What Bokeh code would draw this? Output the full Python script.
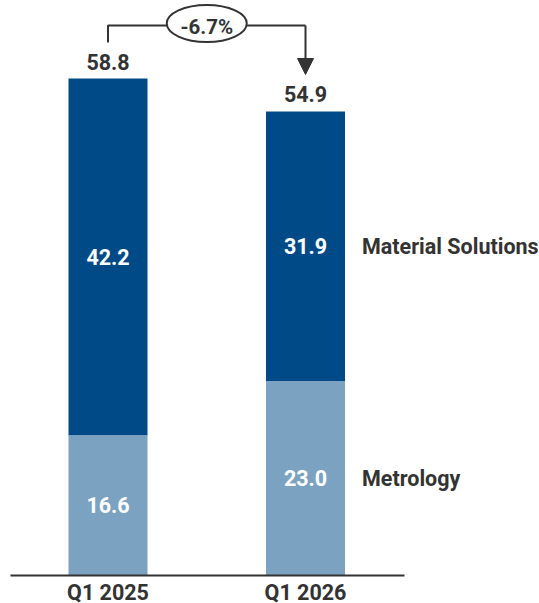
from bokeh.plotting import figure
from bokeh.models import Range1d, Arrow, NormalHead
from bokeh.core.properties import value
from bokeh.embed import file_html
from bokeh.resources import INLINE

# ---- data ----
categories = ["Q1 2025", "Q1 2026"]
metrology = [16.6, 23.0]
material_solutions = [42.2, 31.9]
totals = [58.8, 54.9]
series_names = ["Material Solutions", "Metrology"]
change_label = "-6.7%"

# ---- style ----
DARK = "#004B87"
LIGHT = "#7BA3C1"
TEXT = "#333333"
FONT = value("Roboto")

W, H = 539, 603
PPU_Y = 8.452          # pixels per data unit (y)
PPU_X = 197.5          # pixels per category step (x)
BASE_PX = 575          # pixel (from frame top) of y=0
CENTER0_PX = 107.5     # pixel (from frame left) of first category

def py(n):
    return n / PPU_Y

def px(n):
    return n / PPU_X

x = list(range(len(categories)))
bw = px(79)

p = figure(width=W, height=H, output_backend="svg", toolbar_location=None,
           min_border=0, outline_line_color=None,
           x_range=Range1d(-CENTER0_PX / PPU_X, (W - CENTER0_PX) / PPU_X),
           y_range=Range1d(-(H - BASE_PX) / PPU_Y, BASE_PX / PPU_Y))
p.axis.visible = False
p.grid.visible = False
p.background_fill_color = "white"
p.border_fill_color = "white"

tops = [m + s for m, s in zip(metrology, material_solutions)]

# bars
p.vbar(x=x, width=bw, bottom=0, top=metrology, fill_color=LIGHT, line_color=None)
p.vbar(x=x, width=bw, bottom=metrology, top=tops, fill_color=DARK, line_color=None)

# baseline
p.segment(x0=[x[0] - px(97.5)], y0=[0], x1=[x[-1] + px(99)], y1=[0],
          line_color=TEXT, line_width=2)

common = dict(text_font=FONT, text_font_style="bold", text_font_size="21.5px",
              text_baseline="middle")

# values inside bars
p.text(x=x, y=[m / 2 for m in metrology], text=[f"{v:.1f}" for v in metrology],
       text_color="white", text_align="center", **common)
p.text(x=x, y=[m + s / 2 for m, s in zip(metrology, material_solutions)],
       text=[f"{v:.1f}" for v in material_solutions],
       text_color="white", text_align="center", **common)

# totals
p.text(x=x, y=[t + py(17) for t in totals], text=[f"{v:.1f}" for v in totals],
       text_color=TEXT, text_align="center", **common)

# category labels
p.text(x=x, y=[-py(16.5)] * len(x), text=categories,
       text_color=TEXT, text_align="center", **common)

# series labels on right
lx = x[-1] + bw / 2 + px(17)
p.text(x=[lx, lx],
       y=[metrology[-1] + material_solutions[-1] / 2, metrology[-1] / 2],
       text=series_names, text_color=TEXT, text_align="left", **common)

# change bracket
bracket_y = totals[0] + py(53)
stub_bottom = totals[0] + py(36)
arrow_tip = totals[1] + py(37)
p.line(x=[x[0], x[0], x[1]], y=[stub_bottom, bracket_y, bracket_y],
       line_color=TEXT, line_width=2)
p.add_layout(Arrow(end=NormalHead(size=16, fill_color=TEXT, line_color=TEXT),
                   x_start=x[1], y_start=bracket_y, x_end=x[1], y_end=arrow_tip,
                   line_color=TEXT, line_width=2))
mid = (x[0] + x[1]) / 2
p.ellipse(x=[mid], y=[bracket_y + py(2)], width=80, height=37,
          width_units="screen", height_units="screen",
          fill_color="white", line_color=TEXT, line_width=2)
p.text(x=[mid], y=[bracket_y - py(1)], text=[change_label], text_color=TEXT,
       text_align="center", text_baseline="middle", text_font=FONT,
       text_font_style="bold", text_font_size="20.5px")

open("out.html", "w").write(file_html(p, INLINE))
